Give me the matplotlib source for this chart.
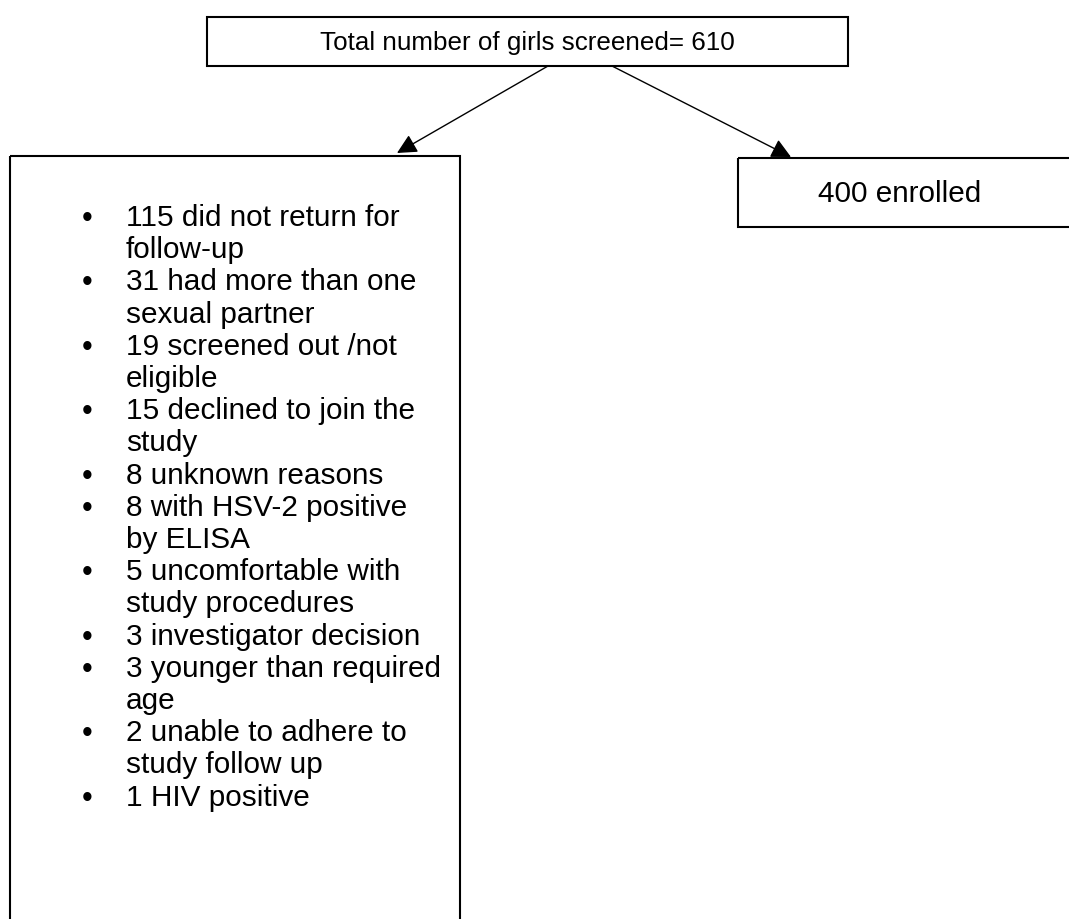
import matplotlib.pyplot as plt
from matplotlib.patches import Rectangle

plt.rcParams['font.family'] = ['Liberation Sans', 'DejaVu Sans']

total_screened = 610
enrolled = 400
counts = [115, 31, 19, 15, 8, 8, 5, 3, 3, 2, 1]
reasons = [
    ["did not return for", "follow-up"],
    ["had more than one", "sexual partner"],
    ["screened out /not", "eligible"],
    ["declined to join the", "study"],
    ["unknown reasons"],
    ["with HSV-2 positive", "by ELISA"],
    ["uncomfortable with", "study procedures"],
    ["investigator decision"],
    ["younger than required", "age"],
    ["unable to adhere to", "study follow up"],
    ["HIV positive"],
]

fig = plt.figure(figsize=(10.69, 9.2), dpi=100)
ax = fig.add_axes([0, 0, 1, 1])
ax.set_xlim(0, 1069)
ax.set_ylim(920, 0)
ax.axis('off')

fs = 21.4

# top box
ax.add_patch(Rectangle((207, 18), 641, 49, fill=False, lw=1.5, ec='black'))
ax.text(527, 43, "Total number of girls screened= %d" % total_screened,
        ha='center', va='center', fontsize=18.7)

# excluded box (runs off the bottom)
ax.add_patch(Rectangle((10, 157), 450, 800, fill=False, lw=1.5, ec='black',
                       clip_on=True))
# enrolled box (runs off the right)
ax.add_patch(Rectangle((738, 159), 400, 69, fill=False, lw=1.5, ec='black',
                       clip_on=True))
ax.text(900, 194, "%d enrolled" % enrolled, ha='center', va='center', fontsize=fs)

# arrows
arrow = dict(arrowstyle='-|>', color='black', lw=1, mutation_scale=30,
             shrinkA=0, shrinkB=0)
ax.annotate("", xy=(397, 154), xytext=(548, 67), arrowprops=arrow)
ax.annotate("", xy=(791, 158), xytext=(612, 67), arrowprops=arrow)

# bullet list
y = 218
step = 32.2
for n, lines in zip(counts, reasons):
    ax.text(87, y + 1, u"\u2022", ha='center', va='center', fontsize=22)
    for i, line in enumerate(lines):
        txt = "%d %s" % (n, line) if i == 0 else line
        ax.text(126, y, txt, ha='left', va='center', fontsize=fs)
        y += step

fig.savefig("out.png", dpi=100)
